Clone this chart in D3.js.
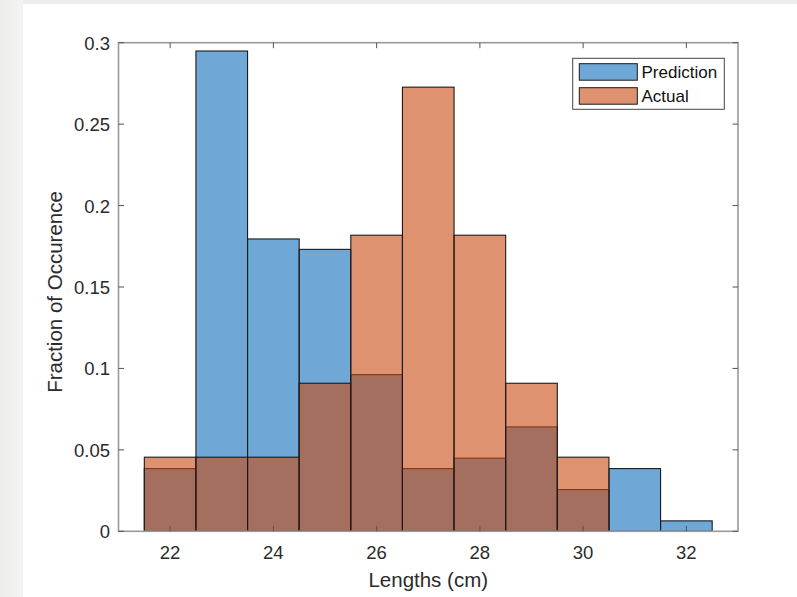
<!DOCTYPE html>
<html>
<head>
<meta charset="utf-8">
<script src="https://cdn.jsdelivr.net/npm/d3@7"></script>
<style>
  html, body { margin: 0; padding: 0; background: #ffffff; }
  svg { display: block; }
  text { font-family: "Liberation Sans", Arial, sans-serif; }
</style>
</head>
<body>
<svg id="chart" width="797" height="597"></svg>
<script>
// Histogram bin centres (cm), each bin is 1 cm wide
const binCenters = [22, 23, 24, 25, 26, 27, 28, 29, 30, 31, 32];
// Fraction of occurrence per bin
const predictionValues = [0.0385, 0.2949, 0.1795, 0.1731, 0.0962, 0.0385, 0.0449, 0.0641, 0.0256, 0.0385, 0.0064];
const actualValues     = [0.0455, 0.0455, 0.0455, 0.0909, 0.1818, 0.2727, 0.1818, 0.0909, 0.0455, 0, 0];
const xTicks = [22, 24, 26, 28, 30, 32];
const yTicks = [0, 0.05, 0.1, 0.15, 0.2, 0.25, 0.3];
const seriesNames = ["Prediction", "Actual"];

const W = 797, H = 597;
const margin = { left: 118.5, right: W - 738, top: 42.7, bottom: H - 531.3 };
const svg = d3.select("#chart");

// figure background with a faint grey border on top and left
const bg = svg.append("defs").append("linearGradient").attr("id", "leftband")
  .attr("x1", "0").attr("x2", "1").attr("y1", "0").attr("y2", "0");
bg.append("stop").attr("offset", "0").attr("stop-color", "#ececea");
bg.append("stop").attr("offset", "1").attr("stop-color", "#f4f4f2");
svg.append("rect").attr("x", 0).attr("y", 0).attr("width", W).attr("height", H).attr("fill", "#ffffff");
svg.append("rect").attr("x", 0).attr("y", 0).attr("width", W).attr("height", 4).attr("fill", "#ededeb");
svg.append("rect").attr("x", 0).attr("y", 0).attr("width", 23).attr("height", H).attr("fill", "url(#leftband)");

const x = d3.scaleLinear().domain([21, 33]).range([margin.left, W - margin.right]);
const y = d3.scaleLinear().domain([0, 0.3]).range([H - margin.bottom, margin.top]);

const series = [
  { name: seriesNames[0], values: predictionValues, color: "rgb(15,110,187)" },
  { name: seriesNames[1], values: actualValues, color: "rgb(202,74,16)" }
];

// bars, semi-transparent so the overlap shows
series.forEach(s => {
  svg.append("g").selectAll("rect")
    .data(binCenters.map((c, i) => ({ c, v: s.values[i] })).filter(d => d.v > 0))
    .join("rect")
    .attr("x", d => x(d.c - 0.5))
    .attr("width", d => x(d.c + 0.5) - x(d.c - 0.5))
    .attr("y", d => y(d.v))
    .attr("height", d => y(0) - y(d.v))
    .attr("fill", s.color)
    .attr("fill-opacity", 0.6)
    .attr("stroke", "#1a1a1a")
    .attr("stroke-width", 1.1);
});

// axes box
const axisColor = "#9a9a9a";
const x0 = x.range()[0], x1 = x.range()[1], y0 = y.range()[0], y1 = y.range()[1];
svg.append("rect").attr("x", x0).attr("y", y1).attr("width", x1 - x0).attr("height", y0 - y1)
  .attr("fill", "none").attr("stroke", axisColor).attr("stroke-width", 1.6);

// inward ticks on all four sides
const tickLen = 5.5;
const tg = svg.append("g").attr("stroke", "#555").attr("stroke-width", 1);
xTicks.forEach(t => {
  tg.append("line").attr("x1", x(t)).attr("x2", x(t)).attr("y1", y0).attr("y2", y0 - tickLen);
  tg.append("line").attr("x1", x(t)).attr("x2", x(t)).attr("y1", y1).attr("y2", y1 + tickLen);
});
yTicks.forEach(t => {
  tg.append("line").attr("x1", x0).attr("x2", x0 + tickLen).attr("y1", y(t)).attr("y2", y(t));
  tg.append("line").attr("x1", x1).attr("x2", x1 - tickLen).attr("y1", y(t)).attr("y2", y(t));
});

// tick labels
svg.append("g").selectAll("text").data(xTicks).join("text")
  .attr("x", d => x(d)).attr("y", 559)
  .attr("text-anchor", "middle").attr("font-size", 18.5).attr("fill", "#2b2b2b")
  .text(d => d);
svg.append("g").selectAll("text").data(yTicks).join("text")
  .attr("x", x0 - 8.5).attr("y", d => y(d) + 7)
  .attr("text-anchor", "end").attr("font-size", 18.5).attr("fill", "#2b2b2b")
  .text(d => d3.format("~g")(d));

// axis titles
svg.append("text").attr("x", (x0 + x1) / 2).attr("y", 587)
  .attr("text-anchor", "middle").attr("font-size", 20.5).attr("fill", "#2b2b2b")
  .text("Lengths (cm)");
svg.append("text").attr("transform", `translate(62, ${(y0 + y1) / 2 + 5}) rotate(-90)`)
  .attr("text-anchor", "middle").attr("font-size", 20.5).attr("fill", "#2b2b2b")
  .text("Fraction of Occurence");

// legend
const lg = svg.append("g");
lg.append("rect").attr("x", 572.7).attr("y", 58.3).attr("width", 151.6).attr("height", 51)
  .attr("fill", "#fff").attr("stroke", "#444").attr("stroke-width", 1);
series.forEach((s, i) => {
  const yy = 63.7 + i * 24;
  lg.append("rect").attr("x", 579.3).attr("y", yy).attr("width", 58).attr("height", 16.5)
    .attr("fill", s.color).attr("fill-opacity", 0.6).attr("stroke", "#1a1a1a").attr("stroke-width", 1);
  lg.append("text").attr("x", 641.5).attr("y", yy + 14)
    .attr("font-size", 17).attr("fill", "#111").text(s.name);
});
</script>
</body>
</html>
